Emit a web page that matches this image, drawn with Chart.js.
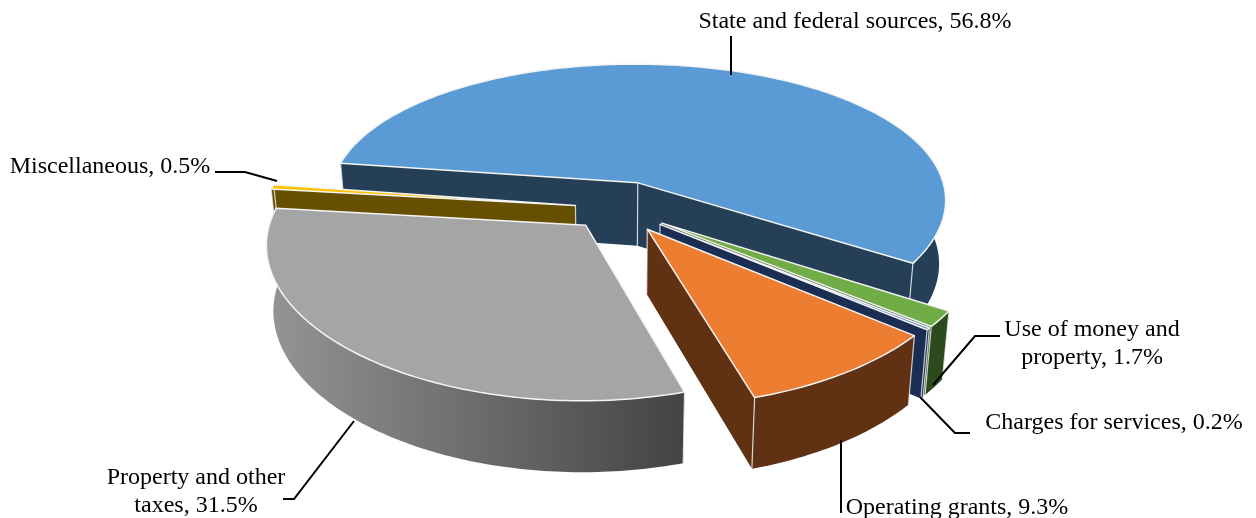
<!DOCTYPE html>
<html>
<head>
<meta charset="utf-8">
<title>Revenue by source</title>
<script src="https://cdn.jsdelivr.net/npm/chart.js@4"></script>
<style>
  html, body { margin: 0; padding: 0; background: #fff; }
  canvas { display: block; }
</style>
</head>
<body>
<canvas id="chart-pie" width="1256" height="518"></canvas>
<script>
const categories = [
  'State and federal sources',
  'Use of money and property',
  'Charges for services',
  'Operating grants',
  'Property and other taxes',
  'Miscellaneous',
];
const shares = [56.8, 1.7, 0.2, 9.3, 31.5, 0.5];
const explode = [60, 55, 55, 54, 48, 42];

const TOP_COLORS = ['#5B9BD5', '#70AD47', '#4472C4', '#ED7D31', '#A5A5A5', '#FFC000'];
// a pair means a left-to-right gradient on the outer wall
const WALL_COLORS = ['#243F56', '#2C4A1D', '#1B2D52', '#613114', ['#959595', '#434343'], '#665000'];
const DRAW_ORDER = [0, 5, 1, 2, 4, 3];

const TILT = 0.46;
const PERSPECTIVE_X = 0.12;
const PERSPECTIVE_Y = 0.15;
const DEPTH = 64;

const LABELS = [
  { lines: ['State and federal sources, 56.8%'], x: 855, y: 28, leader: [[731, 36], [731, 75]] },
  { lines: ['Miscellaneous, 0.5%'], x: 110, y: 173, leader: [[215, 172], [245, 172], [277, 181]] },
  { lines: ['Use of money and', 'property, 1.7%'], x: 1092, y: 336, leader: [[1000, 336], [975, 336], [933, 385]] },
  { lines: ['Charges for services, 0.2%'], x: 1114, y: 429, leader: [[970, 433], [955, 433], [920, 397]] },
  { lines: ['Operating grants, 9.3%'], x: 957, y: 514, leader: [[841, 440], [841, 513]] },
  { lines: ['Property and other', 'taxes, 31.5%'], x: 196, y: 484, leader: [[283, 499], [294, 499], [354, 421]] },
];

function tracePath(ctx, pts) {
  ctx.beginPath();
  pts.forEach((p, i) => (i ? ctx.lineTo(p[0], p[1]) : ctx.moveTo(p[0], p[1])));
}

function drawSlice(ctx, arc, i) {
  const R = arc.outerRadius;
  const mid = (arc.startAngle + arc.endAngle) / 2;
  const ox = Math.cos(mid) * arc.options.offset;
  const oy = Math.sin(mid) * arc.options.offset;

  const project = (x, y, bottom) => {
    const wx = 1 / (1 - PERSPECTIVE_X * y / R);
    const wy = 1 / (1 - PERSPECTIVE_Y * y / R);
    const shrink = bottom ? 0.98 : 1;
    return [
      arc.x + x * wx * shrink,
      arc.y + TILT * y * wy + (bottom ? DEPTH * Math.pow(wy, 0.6) : 0),
    ];
  };

  const steps = Math.max(2, Math.ceil((arc.endAngle - arc.startAngle) * 60));
  const rimTop = [];
  const rimBottom = [];
  for (let s = 0; s <= steps; s++) {
    const a = arc.startAngle + (arc.endAngle - arc.startAngle) * s / steps;
    const x = ox + R * Math.cos(a);
    const y = oy + R * Math.sin(a);
    rimTop.push(project(x, y, false));
    rimBottom.push(project(x, y, true));
  }
  const apexTop = project(ox, oy, false);
  const apexBottom = project(ox, oy, true);
  const last = rimTop.length - 1;

  const color = WALL_COLORS[i];
  const flat = Array.isArray(color) ? color[1] : color;

  // radial walls first, the outer wall may cover them
  ctx.fillStyle = flat;
  tracePath(ctx, [apexTop, rimTop[0], rimBottom[0], apexBottom]);
  ctx.closePath();
  ctx.fill();
  tracePath(ctx, [apexTop, rimTop[last], rimBottom[last], apexBottom]);
  ctx.closePath();
  ctx.fill();

  if (Array.isArray(color)) {
    const xs = rimTop.map(p => p[0]);
    const grad = ctx.createLinearGradient(Math.min(...xs), 0, Math.max(...xs), 0);
    grad.addColorStop(0, color[0]);
    grad.addColorStop(1, color[1]);
    ctx.fillStyle = grad;
  }
  tracePath(ctx, rimTop.concat(rimBottom.slice().reverse()));
  ctx.closePath();
  ctx.fill();

  // light corner lines on the walls
  ctx.strokeStyle = 'rgba(255,255,255,0.75)';
  ctx.lineWidth = 1.2;
  [[rimTop[0], rimBottom[0]], [rimTop[last], rimBottom[last]], [apexTop, apexBottom]].forEach(seg => {
    tracePath(ctx, seg);
    ctx.stroke();
  });

  ctx.fillStyle = arc.options.backgroundColor;
  tracePath(ctx, [apexTop].concat(rimTop));
  ctx.closePath();
  ctx.fill();
  ctx.strokeStyle = '#F4F4F4';
  ctx.lineWidth = 1.5;
  ctx.stroke();
}

const pie3d = {
  id: 'pie3d',
  beforeDatasetsDraw(chart) {
    const ctx = chart.ctx;
    const arcs = chart.getDatasetMeta(0).data;
    ctx.save();
    ctx.lineJoin = 'round';
    DRAW_ORDER.forEach(i => drawSlice(ctx, arcs[i], i));
    ctx.restore();
    return false;
  },
  afterDraw(chart) {
    const ctx = chart.ctx;
    ctx.save();
    ctx.strokeStyle = '#000';
    ctx.lineWidth = 2;
    ctx.fillStyle = '#000';
    ctx.font = '24px "Liberation Serif"';
    ctx.textAlign = 'center';
    LABELS.forEach(l => {
      tracePath(ctx, l.leader);
      ctx.stroke();
      l.lines.forEach((t, n) => ctx.fillText(t, l.x, l.y + n * 28));
    });
    ctx.restore();
  },
};

new Chart(document.getElementById('chart-pie').getContext('2d'), {
  type: 'pie',
  data: {
    labels: categories,
    datasets: [{
      data: shares,
      backgroundColor: TOP_COLORS,
      offset: explode,
      radius: 312,
    }],
  },
  options: {
    responsive: false,
    animation: false,
    rotation: 278.5,
    layout: { padding: { right: 22, bottom: 102 } },
    plugins: { legend: { display: false }, tooltip: { enabled: false } },
  },
  plugins: [pie3d],
});
</script>
</body>
</html>
